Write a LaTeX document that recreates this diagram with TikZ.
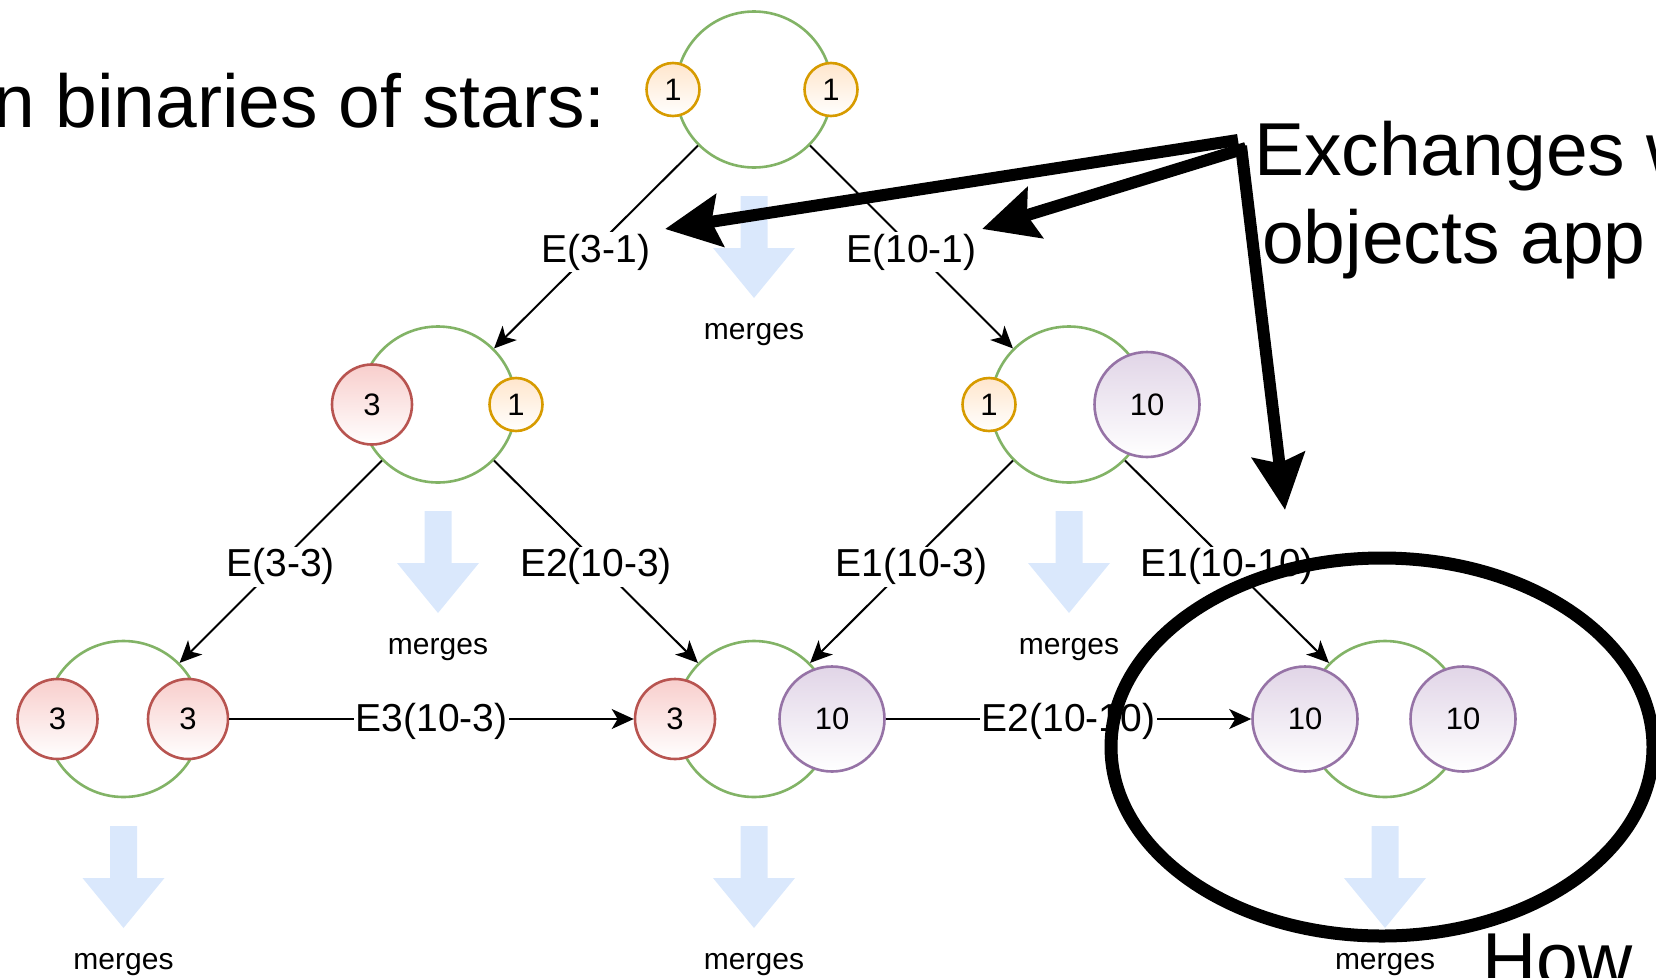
\documentclass[tikz,border=0pt]{standalone}
\usepackage{fontspec}
\setmainfont{Liberation Sans}
\usetikzlibrary{arrows.meta}
\definecolor{bingreen}{HTML}{82B366}
\definecolor{orstroke}{HTML}{D79B00}
\definecolor{orfill}{HTML}{FFE6CC}
\definecolor{redstroke}{HTML}{B85450}
\definecolor{redfill}{HTML}{F8CECC}
\definecolor{pustroke}{HTML}{9673A6}
\definecolor{pufill}{HTML}{E1D5E7}
\definecolor{mergeblue}{HTML}{DAE8FC}
\tikzset{
  mergearrow/.pic={
    \fill[mergeblue] (-13.5,0) -- (13.5,0) -- (13.5,52) -- (41,52) -- (0,102) -- (-41,52) -- (-13.5,52) -- cycle;
    \node[font=\fontsize{30}{36}\selectfont,inner sep=0pt] (-t) at (0,139) {merges};
  }
}
\begin{document}
\begin{tikzpicture}[x=1pt,y=-1pt,
  bin/.style={circle,draw=bingreen,line width=2.6pt,fill=white,minimum size=156pt,inner sep=0pt},
  star/.style={circle,line width=2.6pt,inner sep=0pt,bottom color=white,font=\fontsize{31}{37}\selectfont},
  starO/.style={star,draw=orstroke,top color=orfill,minimum size=53pt},
  starR/.style={star,draw=redstroke,top color=redfill,minimum size=80pt},
  starP/.style={star,draw=pustroke,top color=pufill,minimum size=105pt},
  edge/.style={draw,line width=2pt,-{Stealth[length=22pt,width=20pt,inset=6pt]}},
  elabel/.style={fill=white,inner sep=2pt,yshift=-5pt,font=\fontsize{39}{46}\selectfont},
  hlabel/.style={elabel,yshift=3pt},
  bigtext/.style={inner sep=0pt,font=\fontsize{75}{86}\selectfont},
  bigarrow/.style={line width=12pt,-{Stealth[length=55pt,width=52pt,inset=8pt]}},
]
\useasboundingbox (0,0) rectangle (1656,977);
\clip (0,0) rectangle (1656,977);

% merge arrows
\pic (m0) at (754,196) {mergearrow};
\pic (m1) at (438,511) {mergearrow};
\pic (m2) at (1069,511) {mergearrow};
\pic (m3) at (123.5,826) {mergearrow};
\pic (m4) at (754,826) {mergearrow};
\pic (m5) at (1385,826) {mergearrow};

% binaries
\node[bin] (top) at (754,89.5) {};
\node[bin] (L) at (438,404.5) {};
\node[bin] (R) at (1069,404.5) {};
\node[bin] (A) at (123.5,719) {};
\node[bin] (B) at (754,719) {};
\node[bin] (C) at (1385,719) {};

% stars
\node[starO] (top1) at (673,89.5) {1};
\node[starO] (top2) at (831,89.5) {1};
\node[starR] (L1) at (372,404.5) {3};
\node[starO] (L2) at (516,404.5) {1};
\node[starO] (R1) at (989,404.5) {1};
\node[starP] (R2) at (1147,404.5) {10};
\node[starR] (A1) at (57.5,719) {3};
\node[starR] (A2) at (188,719) {3};
\node[starR] (B1) at (675,719) {3};
\node[starP] (B2) at (832,719) {10};
\node[starP] (C1) at (1305,719) {10};
\node[starP] (C2) at (1463,719) {10};

% exchange edges
\draw[edge] (top.-135) -- node[elabel] (e1) {E(3-1)} (L.45);
\draw[edge] (top.-45) -- node[elabel] (e2) {E(10-1)} (R.135);
\draw[edge] (L.-135) -- node[elabel] (e3) {E(3-3)} (A.45);
\draw[edge] (L.-45) -- node[elabel] (e4) {E2(10-3)} (B.135);
\draw[edge] (R.-135) -- node[elabel] (e5) {E1(10-3)} (B.45);
\draw[edge] (R.-45) -- node[elabel] (e6) {E1(10-10)} (C.135);
\draw[edge] (A2.east) -- node[hlabel] (e7) {E3(10-3)} (B1.west);
\draw[edge] (B2.east) -- node[hlabel] (e8) {E2(10-10)} (C1.west);

% big texts
\node[bigtext,anchor=base east] (txa) at (606,127) {n binaries of stars:};
\node[bigtext,anchor=base west] (txb) at (1254,175) {Exchanges w};
\node[bigtext,anchor=base west] (txc) at (1262,263) {objects app};
\node[bigtext,anchor=base west] (txd) at (1482,985) {How};

% big black arrows
\coordinate (s1) at (1238,140);
\coordinate (s2) at (1246,148);
\coordinate (s3) at (1241,146);
\coordinate (t1) at (665,229);
\coordinate (t2) at (982,229);
\coordinate (t3) at (1285,510);
\draw[bigarrow] (s1) -- (t1);
\draw[bigarrow] (s2) -- (t2);
\draw[bigarrow] (s3) -- (t3);

% highlight ellipse
\draw[line width=13pt] (1382,747) ellipse [x radius=271, y radius=189];
\end{tikzpicture}
\end{document}
